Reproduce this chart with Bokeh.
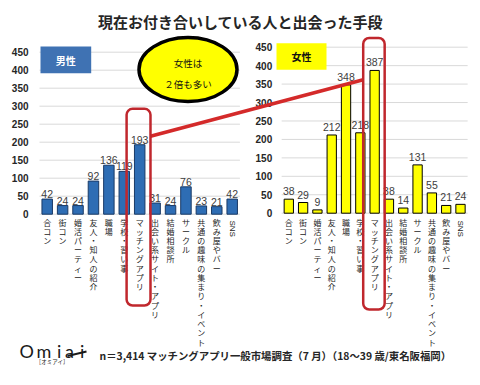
import math
from bokeh.plotting import figure
from bokeh.models import Range1d, BoxAnnotation
from bokeh.core.properties import value
from bokeh.embed import file_html
from bokeh.resources import INLINE

# ---------------- data ----------------
categories = ["合コン", "街コン", "婚活パーティー", "友人・知人の紹介", "職場", "学校・習い事",
              "マッチングアプリ", "出会い系サイト・アプリ", "結婚相談所", "サークル",
              "共通の趣味の集まり・イベント", "飲み屋やバー", "SNS"]
male = [42, 24, 24, 92, 136, 119, 193, 31, 24, 76, 23, 21, 42]
female = [38, 29, 9, 212, 348, 218, 387, 38, 14, 131, 55, 21, 24]
y_ticks = [0, 50, 100, 150, 200, 250, 300, 350, 400, 450]
title = "現在お付き合いしている人と出会った手段"
male_name = "男性"
female_name = "女性"
callout = ["女性は", "２倍も多い"]
highlight = "マッチングアプリ"
footnote = "n＝3,414 マッチングアプリ一般市場調査（7 月）（18～39 歳/東名阪福岡）"

# ---------------- layout (picture pixels) ----------------
PX0, PX1, PY0, PY1 = 0, 480, 0, 385
JP = value("Noto Sans CJK JP")
LAT = value("Liberation Sans")


def span(v0, p0, v1, p1, lo, hi):
    k = (v1 - v0) / (p1 - p0)
    return v0 + (lo - p0) * k, v0 + (hi - p0) * k


def mapper(v0, p0, v1, p1):
    k = (p1 - p0) / (v1 - v0)
    return lambda v: p0 + (v - v0) * k


# chart anchors: (index0 px, index12 px), (value0 px, value450 px)
M_X = (46.7, 231.7); M_Y = (213.7, 51.7)
F_X = (288.3, 460.0); F_Y = (212.7, 46.7)
n = len(categories)
last = n - 1

p = figure(width=PX1 - PX0, height=PY1 - PY0, output_backend="svg", toolbar_location=None,
           x_range=Range1d(PX0, PX1), y_range=Range1d(PY1, PY0),
           x_axis_type=None, y_axis_type=None, min_border=0,
           outline_line_color=None, background_fill_color="white", border_fill_color="white")
p.xgrid.visible = False
p.ygrid.visible = False

p.extra_x_ranges = {
    "mx": Range1d(*span(0, M_X[0], last, M_X[1], PX0, PX1)),
    "fx": Range1d(*span(0, F_X[0], last, F_X[1], PX0, PX1)),
}
p.extra_y_ranges = {
    "my": Range1d(*span(0, M_Y[0], 450, M_Y[1], PY1, PY0)),
    "fy": Range1d(*span(0, F_Y[0], 450, F_Y[1], PY1, PY0)),
}

idx = list(range(n))
vert = ["\n".join(c) for c in categories if not c.isascii()]
vert_x = [i for i, c in enumerate(categories) if not c.isascii()]
rot = [c for c in categories if c.isascii()]
rot_x = [i for i, c in enumerate(categories) if c.isascii()]
LABEL_TOP = 216


def chart(xr, yr, vals, tick_x, fill, line, bw, lab_off):
    p.segment(x0=[-0.5] * len(y_ticks), x1=[last + 0.5] * len(y_ticks), y0=y_ticks, y1=y_ticks,
              x_range_name=xr, y_range_name=yr, line_color="#d9d9d9", line_width=1)
    p.text(x=[tick_x] * len(y_ticks), y=y_ticks, text=[str(t) for t in y_ticks], y_range_name=yr,
           text_align="right", text_baseline="middle", text_font=LAT, text_font_size="10px",
           text_font_style="bold", text_color="#262626")
    p.vbar(x=idx, top=vals, bottom=0, width=bw, x_range_name=xr, y_range_name=yr,
           fill_color=fill, line_color=line, line_width=1)
    p.text(x=idx, y=vals, text=[str(v) for v in vals], x_range_name=xr, y_range_name=yr,
           y_offset=lab_off, text_align="center", text_baseline="bottom", text_font=LAT,
           text_font_size="10.5px", text_color="#404040")
    p.text(x=vert_x, y=[LABEL_TOP] * len(vert_x), text=vert, x_range_name=xr,
           text_align="center", text_baseline="top", text_font=JP, text_font_size="8px",
           text_line_height=0.84, text_color="#262626")
    p.text(x=rot_x, y=[LABEL_TOP + 4] * len(rot_x), text=rot, x_range_name=xr, angle=-math.pi / 2,
           text_align="left", text_baseline="middle", text_font=LAT, text_font_size="8px",
           text_color="#262626")


chart("mx", "my", male, 28, "#2e6db4", "#1a3a66", 0.68, -1)
chart("fx", "fy", female, 271.7, "#ffff00", "#000000", 0.65, -4)

mxp = mapper(0, M_X[0], last, M_X[1]); myp = mapper(0, M_Y[0], 450, M_Y[1])
fxp = mapper(0, F_X[0], last, F_X[1]); fyp = mapper(0, F_Y[0], 450, F_Y[1])
h = categories.index(highlight)

# title
p.text(x=[240], y=[20.7], text=[title], text_align="center", text_baseline="middle",
       text_font=JP, text_font_size="15px", text_font_style="bold", text_color="#262626")

# series name boxes
p.quad(left=[40], right=[90.7], top=[46], bottom=[72.7], fill_color="#3f72b3", line_color=None)
p.text(x=[65.3], y=[59.5], text=[male_name], text_align="center", text_baseline="middle",
       text_font=JP, text_font_size="10px", text_font_style="bold", text_color="white")
p.quad(left=[276], right=[326], top=[42.7], bottom=[69.3], fill_color="#ffff00", line_color=None)
p.text(x=[301], y=[56], text=[female_name], text_align="center", text_baseline="middle",
       text_font=JP, text_font_size="10px", text_font_style="bold", text_color="#111111")

# callout ellipse
p.ellipse(x=[187.5], y=[69], width=[98], height=[64], fill_color="#ffff00",
          line_color="black", line_width=3.5)
p.text(x=[187.5, 187.5], y=[62, 83], text=callout, text_align="center", text_baseline="middle",
       text_font=JP, text_font_size="9.5px", text_color="#111111")

# highlight boxes and connector
RED = "#c0272d"
p.add_layout(BoxAnnotation(left=mxp(h - 0.85), right=mxp(h + 0.7), top=108.3, bottom=305,
                           fill_alpha=0, line_color=RED, line_alpha=1, line_width=2.5,
                           border_radius=6))
p.add_layout(BoxAnnotation(left=fxp(h - 0.8), right=fxp(h + 0.7), top=37.5, bottom=309,
                           fill_alpha=0, line_color=RED, line_alpha=1, line_width=2.5,
                           border_radius=6))
p.line(x=[mxp(h + 0.7), fxp(h - 0.8)], y=[135.7, 79.3], line_color="#d42a2a", line_width=3.5)

# logo
p.text(x=[19, 36, 56.5, 64.5, 79.5], y=[350] * 5, text=["O", "m", "i", "a", "i"],
       text_align="left", text_baseline="alphabetic", text_font=value("Lato"),
       text_font_size="18px", text_color="#1a1a1a")
p.line(x=[67, 86], y=[355.5, 351], line_color="#1a1a1a", line_width=1.8)
p.text(x=[51.7], y=[361.5], text=["［オミアイ］"], text_align="center", text_baseline="middle",
       text_font=JP, text_font_size="5.5px", text_color="#1a1a1a")

# footnote
p.text(x=[99], y=[354.7], text=[footnote], text_align="left", text_baseline="middle",
       text_font=JP, text_font_size="10.4px", text_font_style="bold", text_color="#262626")

open("out.html", "w").write(file_html(p, INLINE))
